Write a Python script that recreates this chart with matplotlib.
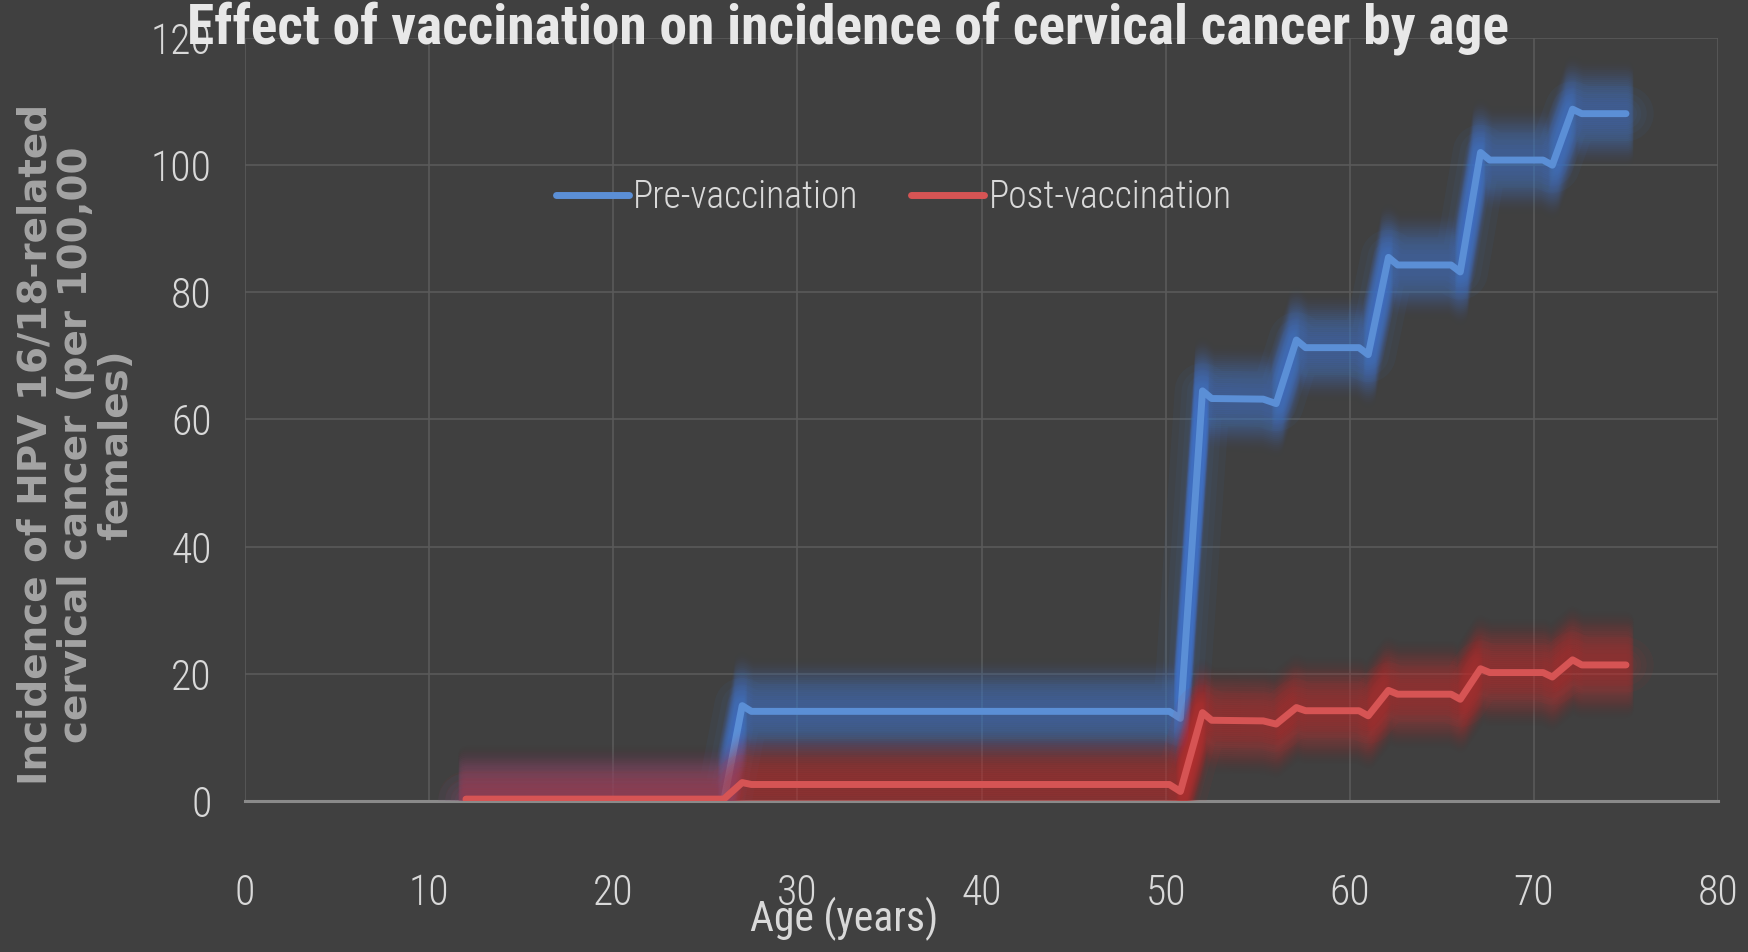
import matplotlib
matplotlib.use("Agg")
import matplotlib.pyplot as plt
import matplotlib.transforms as mtransforms
import numpy as np
from matplotlib import font_manager

# ---- data ----
age = [12, 26, 27, 27.5, 50.2, 50.8, 52, 52.5, 55.3, 56, 57.1, 57.6,
       60.5, 61, 62.1, 62.6, 65.5, 66, 67.1, 67.6, 70.5, 71, 72.1, 72.6, 75]
pre_vaccination = [0, 0, 15, 14.1, 14.1, 13, 64.5, 63.3, 63.2, 62.5, 72.5, 71.3,
                   71.3, 70.2, 85.5, 84.3, 84.3, 83.2, 102, 100.8, 100.8, 100, 108.8, 108.1, 108.1]
post_vaccination = [0.3, 0.3, 2.9, 2.6, 2.6, 1.5, 13.9, 12.7, 12.6, 12.1, 14.7, 14.2,
                    14.2, 13.4, 17.4, 16.8, 16.8, 16.0, 20.8, 20.2, 20.2, 19.5, 22.2, 21.4, 21.4]
series_names = ["Pre-vaccination", "Post-vaccination"]
x_ticks = [0, 10, 20, 30, 40, 50, 60, 70, 80]
y_ticks = [0, 20, 40, 60, 80, 100, 120]

title = "Effect of vaccination on incidence of cervical cancer by age"
x_label = "Age (years)"
y_label = "Incidence of HPV 16/18-related\ncervical cancer (per 100,00\nfemales)"

# ---- fonts ----
available = {f.name for f in font_manager.fontManager.ttflist}


def pick(*names):
    for n in names:
        if n in available:
            return n
    return "DejaVu Sans"


narrow = pick("Liberation Sans Narrow", "Roboto Condensed", "Open Sans Condensed",
              "Noto Sans Condensed", "Liberation Sans")
wide = pick("DejaVu Sans")

BG = "#404040"
BLUE = "#5b8fd6"
RED = "#d65454"
BLUE_GLOW = "#3f7ad0"
RED_GLOW = "#c42e2e"

fig = plt.figure(figsize=(17.49, 9.52), dpi=100, facecolor=BG)
ax = fig.add_axes([0.1401, 0.1586, 0.8422, 0.8015], facecolor=BG)


def glow_line(x, y, color, glow, z):
    # halo built from vertically shifted translucent copies, plus a soft round stroke
    for dy in np.linspace(-46, 46, 47):
        a = 0.08 * np.clip((48 - abs(dy)) / 28.0, 0, 1)
        if a <= 0:
            continue
        tr = mtransforms.offset_copy(ax.transData, fig=fig, x=0, y=dy, units="dots")
        ax.plot(x, y, color=glow, lw=11, alpha=a, transform=tr,
                solid_capstyle="round", solid_joinstyle="round", zorder=z)
    for w in [40, 30, 22, 16]:
        ax.plot(x, y, color=glow, lw=w, alpha=0.06, solid_capstyle="round",
                solid_joinstyle="round", zorder=z)
    return ax.plot(x, y, color=color, lw=5, solid_capstyle="round",
                   solid_joinstyle="round", zorder=z + 1)[0]


l1 = glow_line(age, pre_vaccination, BLUE, BLUE_GLOW, 3)
l2 = glow_line(age, post_vaccination, RED, RED_GLOW, 5)

ax.set_xlim(0, 80)
ax.set_ylim(0, 120)
ax.set_xticks(x_ticks)
ax.set_yticks(y_ticks)
ax.grid(True, color="#5a5a5a", lw=1.2, zorder=0)
ax.set_axisbelow(True)
for s in ["top", "right", "left"]:
    ax.spines[s].set_visible(False)
ax.spines["bottom"].set_color("#8a8a8a")
ax.spines["bottom"].set_linewidth(2.2)
ax.spines["bottom"].set_zorder(2)

ax.tick_params(axis="both", length=0, colors="#d9d9d9", labelsize=30)
ax.tick_params(axis="x", pad=52)
ax.tick_params(axis="y", pad=24)
for lab in ax.get_xticklabels() + ax.get_yticklabels():
    lab.set_fontfamily(narrow)
    lab.set_fontweight("light")

leg = fig.legend([l1, l2], series_names, loc="center", bbox_to_anchor=(0.511, 0.793),
                 ncol=2, frameon=False, handlelength=1.95, handletextpad=0.12,
                 columnspacing=1.4, prop={"family": narrow, "size": 27, "weight": "light"})
for t in leg.get_texts():
    t.set_color("#d9d9d9")

fig.text(0.485, 0.954, title, ha="center", va="baseline", fontsize=40,
         fontweight="bold", color="#e8e8e8", family=narrow, zorder=10)
fig.text(0.4826, 0.022, x_label, ha="center", va="baseline", fontsize=30,
         color="#d9d9d9", family=narrow)
fig.text(0.0435, 0.533, y_label, ha="center", va="center", rotation=90,
         fontsize=28, fontweight="bold", color="#a4a4a4", family=wide,
         multialignment="center", linespacing=1.08)

fig.savefig("out.png", dpi=100, facecolor=BG)
